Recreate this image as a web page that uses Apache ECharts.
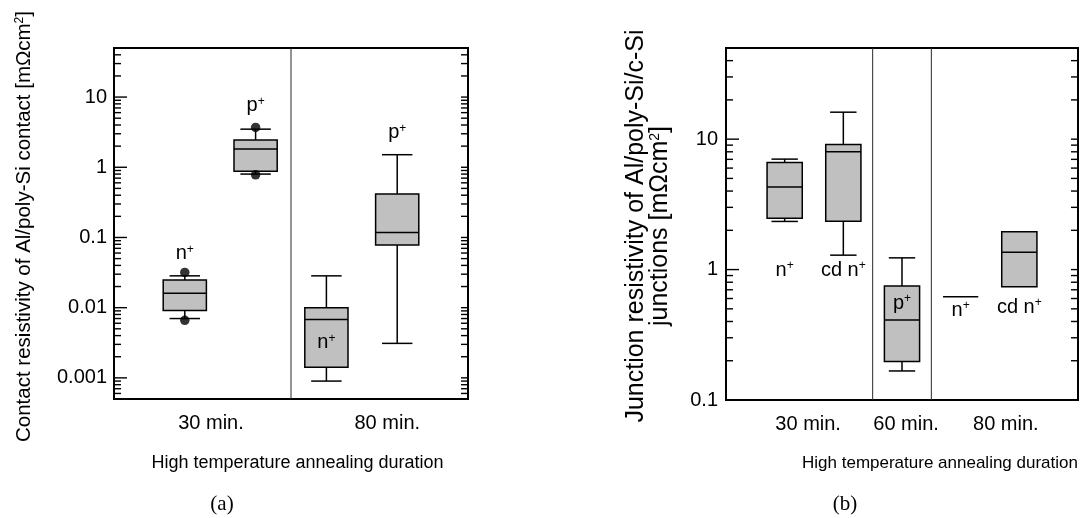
<!DOCTYPE html>
<html>
<head>
<meta charset="utf-8">
<script src="https://cdn.jsdelivr.net/npm/echarts@6/dist/echarts.min.js"></script>
<style>
html,body{margin:0;padding:0;background:#fff}
#c{width:1089px;height:518px}
</style>
</head>
<body>
<div id="c"></div>
<script>
// ---------- Panel (a): contact resistivity ----------
const groupsA = ['n+', 'p+', 'n+', 'p+'];
const slotA = [1, 2, 3, 4];
const lowA  = [0.0070, 0.80, 0.00090, 0.0031];
const q1A   = [0.0091, 0.88, 0.00142, 0.078];
const medA  = [0.016, 1.82, 0.0068, 0.118];
const q3A   = [0.0247, 2.44, 0.0100, 0.416];
const highA = [0.0284, 3.49, 0.0284, 1.51];
const outlierSlotA = [1, 1, 2, 2];
const outlierA = [0.0318, 0.0066, 3.69, 0.78];
const labelValueA = [0.0596, 7.6, 0.00318, 3.1];
const durationsA = ['30 min.', '80 min.'];
const durationSlotA = [1.37, 3.86];
const dividerA = [2.5];
const yTickExpA = [-3, -2, -1, 0, 1];
const yTickLabelA = ['0.001', '0.01', '0.1', '1', '10'];

// ---------- Panel (b): junction resistivity ----------
const groupsB = ['n+', 'cd n+', 'p+', 'n+', 'cd n+'];
const slotB = [1, 2, 3, 4, 5];
const lowB  = [2.34, 1.29, 0.167, 0.62, 0.738];
const q1B   = [2.48, 2.35, 0.197, 0.62, 0.738];
const medB  = [4.29, 8.0, 0.41, 0.62, 1.36];
const q3B   = [6.63, 9.1, 0.748, 0.62, 1.95];
const highB = [7.03, 16.1, 1.23, 0.62, 1.95];
const labelValueB = [0.99, 0.99, 0.553, 0.49, 0.516];
const durationsB = ['30 min.', '60 min.', '80 min.'];
const durationSlotB = [1.4, 3.07, 4.77];
const dividerB = [2.5, 3.5];
const yTickExpB = [-1, 0, 1];
const yTickLabelB = ['0.1', '1', '10'];

const minorMultiples = [1, 2, 3, 4, 5, 6, 7, 8, 9];

const FONT = 'Liberation Sans, Arial, Helvetica, sans-serif';
const BOX_FILL = '#c0c0c0';

function supText(s) {
  if (s.endsWith('+')) return '{m|' + s.slice(0, -1) + '}{s|+}';
  return '{m|' + s + '}';
}

function boxSeries(gi, slots, low, q1, med, q3, high, boxW, capW) {
  return {
    type: 'custom', xAxisIndex: gi, yAxisIndex: gi, silent: true, z: 3,
    data: slots.map((s, i) => [s, low[i], q1[i], med[i], q3[i], high[i]]),
    encode: { x: 0, y: [1, 2, 3, 4, 5] },
    renderItem(params, api) {
      const x = api.value(0);
      const lo = api.value(1), a = api.value(2), m = api.value(3), b = api.value(4), hi = api.value(5);
      const cx = api.coord([x, m])[0];
      const xl = api.coord([x - boxW / 2, m])[0];
      const xr = api.coord([x + boxW / 2, m])[0];
      const cl = api.coord([x - capW / 2, m])[0];
      const cr = api.coord([x + capW / 2, m])[0];
      const Y = v => api.coord([x, v])[1];
      const st = { stroke: '#000', lineWidth: 1.5, fill: null };
      const ch = [];
      if (hi > b) {
        ch.push({ type: 'line', shape: { x1: cx, y1: Y(b), x2: cx, y2: Y(hi) }, style: st });
        ch.push({ type: 'line', shape: { x1: cl, y1: Y(hi), x2: cr, y2: Y(hi) }, style: st });
      }
      if (lo < a) {
        ch.push({ type: 'line', shape: { x1: cx, y1: Y(a), x2: cx, y2: Y(lo) }, style: st });
        ch.push({ type: 'line', shape: { x1: cl, y1: Y(lo), x2: cr, y2: Y(lo) }, style: st });
      }
      if (b > a) {
        ch.push({ type: 'rect', shape: { x: xl, y: Y(b), width: xr - xl, height: Y(a) - Y(b) },
          style: { fill: BOX_FILL, stroke: '#000', lineWidth: 1.5 } });
      }
      ch.push({ type: 'line', shape: { x1: xl, y1: Y(m), x2: xr, y2: Y(m) }, style: st });
      return { type: 'group', children: ch };
    }
  };
}

function tickSeries(gi, decades) {
  const vals = [];
  decades.forEach(k => minorMultiples.forEach(mm => vals.push([0.5, mm * Math.pow(10, k), mm])));
  return {
    type: 'custom', xAxisIndex: gi, yAxisIndex: gi, silent: true, z: 4,
    data: vals,
    renderItem(params, api) {
      const cs = params.coordSys;
      const y = api.coord([0.5, api.value(1)])[1];
      if (y < cs.y + 1 || y > cs.y + cs.height - 0.5) return null;
      const major = api.value(2) === 1;
      const lenL = major ? 13 : 7, lenR = 7;
      const st = { stroke: '#000', lineWidth: 1.4 };
      return { type: 'group', children: [
        { type: 'line', shape: { x1: cs.x, y1: y, x2: cs.x + lenL, y2: y }, style: st },
        { type: 'line', shape: { x1: cs.x + cs.width - lenR, y1: y, x2: cs.x + cs.width, y2: y }, style: st }
      ] };
    }
  };
}

function dividerSeries(gi, divs) {
  return {
    type: 'custom', xAxisIndex: gi, yAxisIndex: gi, silent: true, z: 2,
    data: divs.map(d => [d, 1]),
    renderItem(params, api) {
      const cs = params.coordSys;
      const x = api.coord([api.value(0), 1])[0];
      return { type: 'line', shape: { x1: x, y1: cs.y, x2: x, y2: cs.y + cs.height },
        style: { stroke: '#2a2a2a', lineWidth: 1 } };
    }
  };
}

function groupLabelSeries(gi, slots, vals, names, fs) {
  return {
    type: 'custom', xAxisIndex: gi, yAxisIndex: gi, silent: true, z: 5,
    data: slots.map((s, i) => [s, vals[i]]),
    renderItem(params, api) {
      const p = api.coord([api.value(0), api.value(1)]);
      return { type: 'text', x: p[0], y: p[1], style: {
        text: supText(names[params.dataIndex]), align: 'center', verticalAlign: 'middle', fill: '#000',
        rich: { m: { fontSize: fs, fontFamily: FONT, fill: '#000' },
                s: { fontSize: 12, fontFamily: FONT, fill: '#000', verticalAlign: 'top' } }
      } };
    }
  };
}

function durationSeries(gi, slots, names, fs) {
  return {
    type: 'custom', xAxisIndex: gi, yAxisIndex: gi, silent: true, z: 5,
    data: slots.map(s => [s, 1]),
    renderItem(params, api) {
      const cs = params.coordSys;
      const x = api.coord([api.value(0), 1])[0];
      return { type: 'text', x: x, y: cs.y + cs.height + 24, style: {
        text: names[params.dataIndex], align: 'center', verticalAlign: 'middle', fill: '#000',
        font: fs + 'px ' + FONT } };
    }
  };
}

function logFormatter(exps, labels) {
  return v => {
    const e = Math.log10(v);
    const r = Math.round(e);
    if (Math.abs(e - r) > 1e-6) return '';
    const i = exps.indexOf(r);
    return i >= 0 ? labels[i] : '';
  };
}

const chart = echarts.init(document.getElementById('c'), null, { renderer: 'canvas' });

chart.setOption({
  animation: false,
  backgroundColor: '#fff',
  grid: [
    { left: 114, top: 48, width: 354, height: 351, show: true, borderColor: '#000', borderWidth: 2, backgroundColor: 'transparent' },
    { left: 726, top: 48, width: 352, height: 352, show: true, borderColor: '#000', borderWidth: 2, backgroundColor: 'transparent' }
  ],
  xAxis: [
    { type: 'value', gridIndex: 0, min: 0, max: 5, axisLine: { show: false }, axisTick: { show: false },
      axisLabel: { show: false }, splitLine: { show: false },
      name: 'High temperature annealing duration', nameLocation: 'middle', nameGap: 55,
      nameTextStyle: { fontSize: 18, fontFamily: FONT, color: '#000', padding: [0, 0, 0, 13] } },
    { type: 'value', gridIndex: 1, min: 0, max: 6, axisLine: { show: false }, axisTick: { show: false },
      axisLabel: { show: false }, splitLine: { show: false },
      name: 'High temperature annealing duration', nameLocation: 'middle', nameGap: 55,
      nameTextStyle: { fontSize: 17, fontFamily: FONT, color: '#000', padding: [0, 0, 0, 76] } }
  ],
  yAxis: [
    { type: 'log', gridIndex: 0, min: 0.0005, max: 50, logBase: 10,
      axisLine: { show: false }, axisTick: { show: false }, splitLine: { show: false },
      axisLabel: { fontSize: 20, fontFamily: FONT, color: '#000', margin: 7, formatter: logFormatter(yTickExpA, yTickLabelA) },
      name: 'Contact resistivity of Al/poly-Si contact [mΩcm{s|2}]', nameLocation: 'middle', nameGap: 79, nameRotate: 90,
      nameTextStyle: { fontSize: 20.5, fontFamily: FONT, color: '#000', padding: [0, 6, 0, 0],
        rich: { s: { fontSize: 12, fontFamily: FONT, verticalAlign: 'top' } } } },
    { type: 'log', gridIndex: 1, min: 0.1, max: 50, logBase: 10,
      axisLine: { show: false }, axisTick: { show: false }, splitLine: { show: false },
      axisLabel: { fontSize: 20, fontFamily: FONT, color: '#000', margin: 8, formatter: logFormatter(yTickExpB, yTickLabelB) },
      name: 'Junction resistivity of Al/poly-Si/c-Si\njunctions [mΩcm{s|2}]', nameLocation: 'middle', nameGap: 54, nameRotate: 90,
      nameTextStyle: { fontSize: 25, fontFamily: FONT, color: '#000', lineHeight: 24, padding: [0, 4, 0, 0],
        rich: { s: { fontSize: 14, fontFamily: FONT, verticalAlign: 'top' } } } }
  ],
  graphic: [
    { type: 'text', x: 222, y: 504, style: { text: '(a)', font: '21px Liberation Serif, DejaVu Serif, serif', fill: '#000', align: 'center', verticalAlign: 'middle' } },
    { type: 'text', x: 845, y: 504, style: { text: '(b)', font: '21px Liberation Serif, DejaVu Serif, serif', fill: '#000', align: 'center', verticalAlign: 'middle' } }
  ],
  series: [
    dividerSeries(0, dividerA),
    dividerSeries(1, dividerB),
    tickSeries(0, [-4, -3, -2, -1, 0, 1]),
    tickSeries(1, [-1, 0, 1]),
    boxSeries(0, slotA, lowA, q1A, medA, q3A, highA, 0.61, 0.43),
    boxSeries(1, slotB, lowB, q1B, medB, q3B, highB, 0.6, 0.45),
    { type: 'scatter', xAxisIndex: 0, yAxisIndex: 0, silent: true, z: 6, symbol: 'circle', symbolSize: 9.5,
      itemStyle: { color: '#000' }, data: outlierSlotA.map((s, i) => [s, outlierA[i]]) },
    groupLabelSeries(0, slotA, labelValueA, groupsA, 20),
    groupLabelSeries(1, slotB, labelValueB, groupsB, 20),
    durationSeries(0, durationSlotA, durationsA, 20),
    durationSeries(1, durationSlotB, durationsB, 20)
  ]
});
</script>
</body>
</html>
